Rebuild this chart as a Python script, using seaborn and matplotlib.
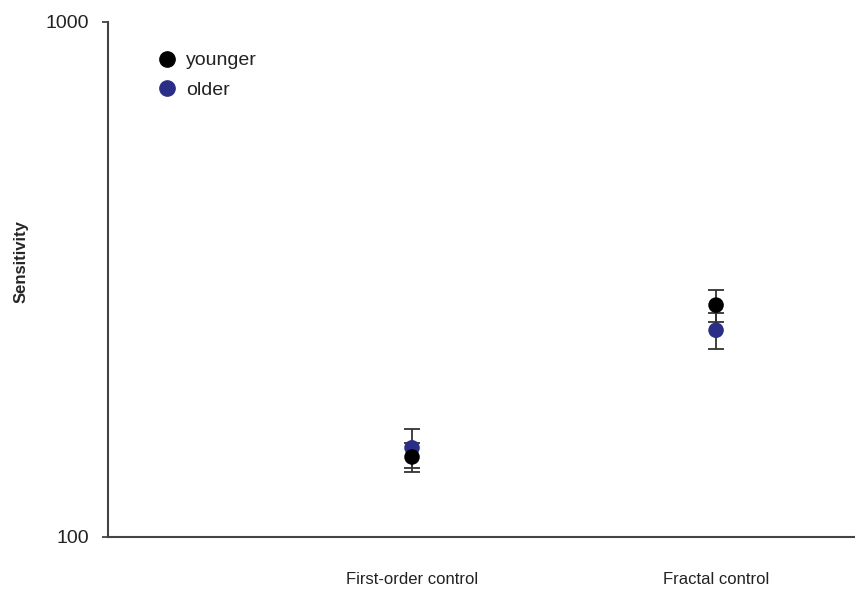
import matplotlib
matplotlib.use("Agg")
import matplotlib.pyplot as plt
from matplotlib.lines import Line2D
import seaborn as sns
import pandas as pd
import numpy as np

# Sensitivity by condition and age group
conditions = ["First-order control", "Fractal control"]
groups = ["younger", "older"]
younger_mean = [143, 282]
younger_err = [9, 20]
older_mean = [149, 252]
older_err = [13, 20]
group_colors = {"younger": "#000000", "older": "#2b2e86"}

df = pd.DataFrame({
    "condition": conditions * 2,
    "pos": list(range(len(conditions))) * 2,
    "group": ["younger"] * len(conditions) + ["older"] * len(conditions),
    "sensitivity": younger_mean + older_mean,
    "err": younger_err + older_err,
})

sns.set_style("ticks")
plt.rcParams["font.family"] = ["Liberation Sans", "DejaVu Sans"]

fig = plt.figure(figsize=(8.55, 5.91), dpi=100)
ax = fig.add_axes([0.1263, 0.0914, 0.8737, 0.8714])

# Error bars first, then markers (older under younger)
for g in ["older", "younger"]:
    sub = df[df["group"] == g]
    ax.errorbar(sub["pos"], sub["sensitivity"], yerr=sub["err"], fmt="none",
                ecolor="#333333", elinewidth=1.3, capsize=5.5, capthick=1.3, zorder=2)

plot_order = df.iloc[[2, 3, 0, 1]]
sns.scatterplot(data=plot_order, x="pos", y="sensitivity", hue="group",
                hue_order=groups, palette=group_colors, s=125,
                edgecolor=None, linewidth=0, legend=False, ax=ax, zorder=3)

ax.set_yscale("log")
ax.set_ylim(100, 1000)
ax.set_yticks([100, 1000])
ax.set_yticklabels(["100", "1000"])
ax.yaxis.set_minor_locator(matplotlib.ticker.NullLocator())
ax.set_xlim(-1.0, 1.457)
ax.set_xticks(range(len(conditions)))
ax.set_xticklabels(conditions, fontsize=12)
ax.tick_params(axis="x", length=0, pad=25, colors="#222222")
ax.tick_params(axis="y", length=4.5, width=1.3, labelsize=14, pad=9, colors="#444444",
               labelcolor="#222222")

for side in ["top", "right"]:
    ax.spines[side].set_visible(False)
for side in ["left", "bottom"]:
    ax.spines[side].set_color("#444444")
    ax.spines[side].set_linewidth(1.5)

ax.set_xlabel("")
ax.set_ylabel("Sensitivity", fontsize=12, fontweight="bold")
ax.yaxis.set_label_coords(-0.107, 0.534)

handles = [Line2D([0], [0], marker="o", linestyle="none", markersize=11,
                  markerfacecolor=group_colors[g], markeredgecolor=group_colors[g],
                  label=g) for g in groups]
leg = ax.legend(handles=handles, loc="upper left", bbox_to_anchor=(0.066, 0.942),
                frameon=False, fontsize=14, handlelength=1.0, handletextpad=0.48,
                labelspacing=0.62, borderaxespad=0, borderpad=0)
for t in leg.get_texts():
    t.set_color("#222222")

fig.savefig("out.png", dpi=100)
